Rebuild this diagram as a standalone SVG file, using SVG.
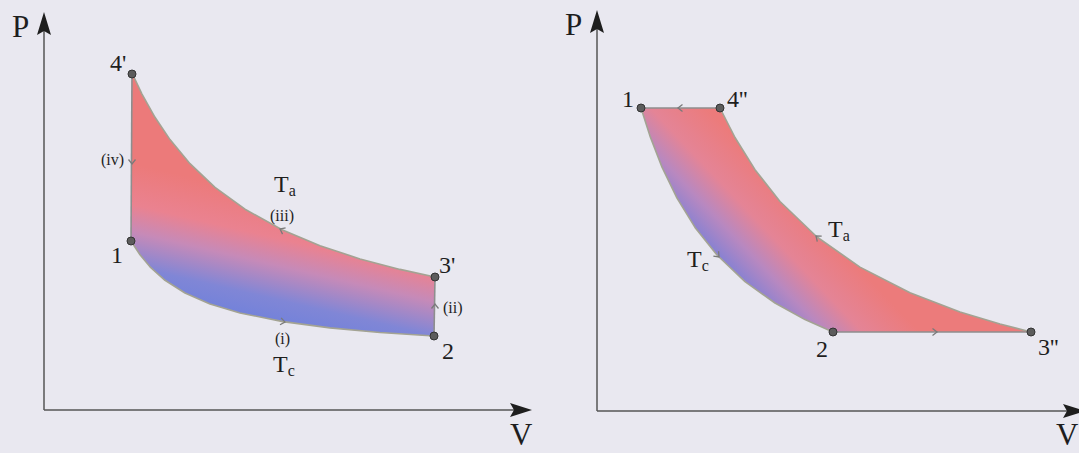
<svg xmlns="http://www.w3.org/2000/svg" xmlns:xlink="http://www.w3.org/1999/xlink" width="1079" height="453" viewBox="0 0 1079 453">
<style>
.ax{stroke:#555;stroke-width:1.5;fill:none}
.ah{fill:#1e1e1e}
.iso{stroke:#a3a393;stroke-width:1.6;fill:none;stroke-linejoin:round}
.st{stroke:#8e8e8e;stroke-width:1.6;fill:none}
.pt{fill:#5c5c5c;stroke:#333;stroke-width:1}
.lb{font-family:"Liberation Serif","Times New Roman",serif;fill:#1e1e1e}
.big{font-size:31px}
.num{font-size:24px}
.sm{font-size:16px}
.sub{font-size:16px}
.chev{stroke:#7a7a7a;stroke-width:1.3;fill:none}
</style>
<defs>
<linearGradient id="gL" gradientUnits="userSpaceOnUse" x1="290" y1="200" x2="260" y2="330">
<stop offset="0" stop-color="#ec7a7a"/>
<stop offset="0.3" stop-color="#ea8290"/>
<stop offset="0.5" stop-color="#c68ab8"/>
<stop offset="0.75" stop-color="#8086d6"/>
<stop offset="1" stop-color="#6c80dc"/>
</linearGradient>
<linearGradient id="gR" gradientUnits="userSpaceOnUse" x1="690" y1="290" x2="790" y2="195">
<stop offset="0" stop-color="#6a7fdc"/>
<stop offset="0.28" stop-color="#7d80d6"/>
<stop offset="0.5" stop-color="#b888c0"/>
<stop offset="0.7" stop-color="#e48496"/>
<stop offset="1" stop-color="#ec7b7b"/>
</linearGradient>
<path id="chev" d="M4.5,-3.5 L0,0 L4.5,3.5"/>
</defs>
<rect width="1079" height="453" fill="#e9e8f0"/>

<!-- filled cycle regions -->
<g id="regions">
<path fill="url(#gL)" d="M132,73 L142,94.1 L155,117.3 L170,139.6 L190,163.7 L215,187.3 L245,209.2 L282,229.7 L320,245.7 L360,258.9 L400,269.4 L435,277 L434,336 L380,332.5 L330,327.9 L283,321.6 L240,313 L210,304 L185,293 L165,280.3 L150,266.8 L140,254.8 L131,241 Z"/>
<path fill="url(#gR)" d="M641,108 L720,108 L735,137.5 L755,169.7 L780,201.5 L817,237 L860,267.1 L910,292.7 L960,311.9 L1000,324 L1031,332 L833,332 L805,319.6 L775,303 L745,281.6 L717,255 L695,227.4 L677,198.1 L662,167.1 L650,136.1 Z"/>
</g>

<!-- axes -->
<g id="axes">
<path class="ax" d="M44,410 L44,30 M44,410 L514,410"/>
<path class="ah" d="M44,12 L51,35 L44,31 L37,35 Z"/>
<path class="ah" d="M532,410 L510,403 L514,410 L510,417 Z"/>
<path class="ax" d="M597,411 L597,28 M597,411 L1067,411"/>
<path class="ah" d="M597,10 L604,33 L597,29 L590,33 Z"/>
<path class="ah" d="M1085,411 L1063,404 L1067,411 L1063,418 Z"/>
<text class="lb big" x="12" y="37">P</text>
<text class="lb big" x="510" y="445">V</text>
<text class="lb big" x="565" y="35">P</text>
<text class="lb big" x="1056" y="445">V</text>
</g>

<!-- connectors: processes -->
<g id="connectors">
<path id="p-iii" class="iso" d="M132,73 L142,94.1 L155,117.3 L170,139.6 L190,163.7 L215,187.3 L245,209.2 L282,229.7 L320,245.7 L360,258.9 L400,269.4 L435,277"/>
<path id="p-i" class="iso" d="M131,241 L140,254.8 L150,266.8 L165,280.3 L185,293 L210,304 L240,313 L283,321.6 L330,327.9 L380,332.5 L434,336"/>
<path id="p-iv" class="st" d="M132,73 L131,241"/>
<path id="p-ii" class="st" d="M434,336 L435,277"/>
<path id="r-ta" class="iso" d="M720,108 L735,137.5 L755,169.7 L780,201.5 L817,237 L860,267.1 L910,292.7 L960,311.9 L1000,324 L1031,332"/>
<path id="r-tc" class="iso" d="M641,108 L650,136.1 L662,167.1 L677,198.1 L695,227.4 L717,255 L745,281.6 L775,303 L805,319.6 L833,332"/>
<path id="r-top" class="st" d="M641,108 L720,108"/>
<path id="r-bot" class="st" d="M833,332 L1031,332"/>
<use href="#chev" class="chev" transform="translate(132,164) rotate(-90)"/>
<use href="#chev" class="chev" transform="translate(280,229) rotate(25.5)"/>
<use href="#chev" class="chev" transform="translate(435,304) rotate(90)"/>
<use href="#chev" class="chev" transform="translate(285,322) rotate(189.2)"/>
<use href="#chev" class="chev" transform="translate(678,108) rotate(0)"/>
<use href="#chev" class="chev" transform="translate(937,332) rotate(180)"/>
<use href="#chev" class="chev" transform="translate(816,236) rotate(39.3)"/>
<use href="#chev" class="chev" transform="translate(719,257) rotate(227.7)"/>
</g>

<!-- process labels -->
<g id="labels">
<text class="lb sm" x="124" y="165" text-anchor="end">(iv)</text>
<text class="lb sm" x="270" y="221">(iii)</text>
<text class="lb sm" x="443" y="313">(ii)</text>
<text class="lb sm" x="275" y="344">(i)</text>
<text class="lb num" x="274" y="192">T<tspan class="sub" dy="4">a</tspan></text>
<text class="lb num" x="273" y="372">T<tspan class="sub" dy="4">c</tspan></text>
<text class="lb num" x="828" y="237">T<tspan class="sub" dy="4">a</tspan></text>
<text class="lb num" x="687" y="267">T<tspan class="sub" dy="4">c</tspan></text>
</g>

<!-- state nodes -->
<g id="n-L4"><circle class="pt" cx="132" cy="74" r="4"/><text class="lb num" x="110" y="71">4'</text></g>
<g id="n-L1"><circle class="pt" cx="131" cy="241" r="4"/><text class="lb num" x="111" y="263">1</text></g>
<g id="n-L3"><circle class="pt" cx="435" cy="277" r="4"/><text class="lb num" x="439" y="273">3'</text></g>
<g id="n-L2"><circle class="pt" cx="434" cy="336" r="4"/><text class="lb num" x="442" y="359">2</text></g>
<g id="n-R1"><circle class="pt" cx="641" cy="108" r="4"/><text class="lb num" x="622" y="107">1</text></g>
<g id="n-R4"><circle class="pt" cx="720" cy="108" r="4"/><text class="lb num" x="727" y="107">4''</text></g>
<g id="n-R2"><circle class="pt" cx="833" cy="332" r="4"/><text class="lb num" x="816" y="357">2</text></g>
<g id="n-R3"><circle class="pt" cx="1031" cy="332" r="4"/><text class="lb num" x="1038" y="355">3''</text></g>
</svg>
